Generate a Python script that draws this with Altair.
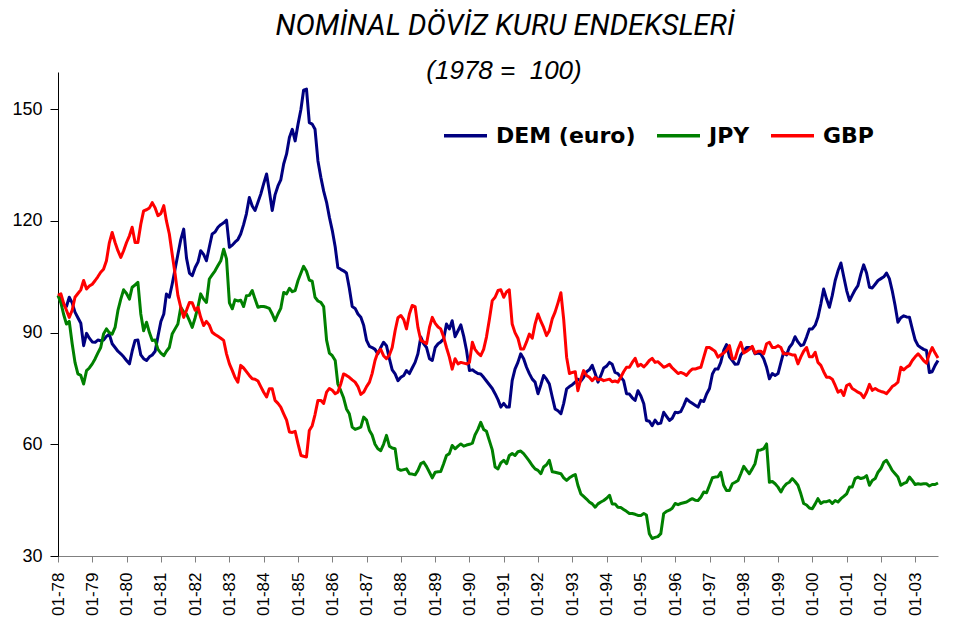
import altair as alt
import pandas as pd

TITLE = "NOMİNAL DÖVİZ KURU ENDEKSLERİ"
SUBTITLE = "(1978 =\u00a0 100)"
SERIES = ["DEM (euro)", "JPY", "GBP"]
COLORS = ["#000080", "#008000", "#FF0000"]
Y_TICKS = [30, 60, 90, 120, 150]
START = "1978-01-01"  # monthly data, Jan 1978 .. Sep 2003

dem = [
    100, 99, 97.5, 97, 99.5, 98, 95.5, 94, 92.5, 86.5, 89.8, 88.5,
    87.5, 87.4, 88, 87.8, 88, 89, 89.6, 87, 86, 85, 84.3, 83.5,
    82.5, 81.6, 85, 87.9, 88, 84, 83, 82.5, 83.5, 84, 85, 89,
    93, 95, 100.4, 99.5, 103, 107, 111, 115, 117.8, 110, 106, 105.3,
    107.5, 109, 112, 111, 109.3, 113, 116.5, 117, 118.3, 119, 119.5, 120.2,
    112.9, 113.5, 114.3, 115, 116.5, 119, 121.9, 126.3, 124, 122.8, 125, 127.2,
    130, 132.6, 128, 122.8, 127, 129.4, 131, 135.3, 138, 142.4, 144.6, 141.5,
    146, 150, 155.1, 155.4, 146.4, 146, 144.6, 136.1, 131.7, 128, 125, 121,
    117.4, 113, 107.5, 107, 106.6, 106, 102, 97, 96.5, 95, 94.1, 92,
    87.9, 86.3, 86, 85.5, 84.3, 86, 87.4, 86.5, 83, 80, 78.9, 77.1,
    78, 78.5, 79.8, 79, 80.5, 82, 84.3, 88.8, 87, 86, 83, 82.5,
    86, 87, 87.5, 88.3, 92.3, 91, 93.2, 88.9, 90.5, 92.1, 89, 85.2,
    79.8, 80, 79.5, 79, 78.9, 78, 77, 76, 75, 73.6, 72, 70,
    71, 70, 70, 77.1, 80.2, 82, 84.3, 83, 80.7, 79, 77.5, 76.7,
    73.6, 76, 78.5, 77.5, 76.2, 72.7, 69.5, 69, 68.2, 71, 74.9, 75.5,
    76, 76.7, 77.5, 77, 78, 79.5, 80, 81.2, 79, 76.7, 78.5, 80.5,
    81, 82, 81.5, 79.3, 79, 78, 77.1, 73.6, 73.5, 72.5, 71.8, 74.4,
    73, 70.9, 66.4, 66.2, 65, 66.5, 65.5, 65.7, 68.6, 67.5, 66.4, 67,
    68.6, 68.5, 68.8, 70.4, 72.2, 71.5, 71, 70.5, 70, 71.8, 71.5, 73.5,
    75, 78.9, 80.2, 80.2, 82, 85.2, 86.8, 83.5, 82.5, 81.5, 81.6, 84,
    85, 86, 86, 86, 84.3, 84.5, 84.3, 83, 80.7, 77.6, 79, 78.5,
    79, 82, 84.7, 84, 86, 87, 88.9, 87.5, 86.5, 86.8, 88.8, 91,
    91, 92, 94.1, 97.7, 101.7, 99, 96.8, 100, 104, 106.6, 108.7, 105,
    101.3, 98.6, 100, 101.5, 102.6, 105.7, 108.2, 106, 102.2, 102, 103, 104,
    104.5, 105, 106, 104.5, 101.3, 97.3, 92.8, 94, 94.5, 94.2, 94.1, 91,
    88, 86.5, 86, 85.5, 85.2, 79.3, 79.5, 81.2, 82.5,
]

jpy = [
    100, 98, 95, 92.3, 93, 87, 82, 78.9, 78.5, 76.2, 79.8, 80.5,
    81.6, 83, 84.5, 86, 89.6, 91, 90, 89.6, 91.4, 95.9, 99, 101.5,
    100.5, 99, 102.2, 102.8, 103.5, 95, 90.5, 92.8, 90, 87.9, 88, 85.5,
    84.5, 83.8, 85, 86, 89.6, 91, 92.3, 96.8, 95.5, 95, 93.2, 91.4,
    94, 97, 100.4, 99, 98.1, 104.4, 105.5, 106.6, 108, 109.3, 112.4, 109.8,
    98, 96.4, 98.8, 98.5, 98.7, 97, 99.9, 100, 101.3, 99, 96.8, 97,
    97, 96.8, 96.5, 95, 93.2, 95, 96.5, 100.8, 100.4, 101.9, 101, 101.3,
    104, 106, 107.8, 106.5, 104.1, 103.8, 99.5, 98.5, 98.1, 97, 88, 84.5,
    83.8, 82.5, 76.2, 74.4, 72.5, 69.5, 68.2, 64.6, 64, 64.3, 64.6, 67.3,
    66.5, 63.7, 62.5, 60, 58.8, 58.3, 60, 62.4, 59.5, 59, 58.8, 53.4,
    53, 53.2, 53.4, 52.1, 52, 51.8, 53, 54.8, 55.2, 54, 52.5, 51,
    52.5, 52.6, 52.7, 54.8, 57, 57.5, 59.7, 58.8, 59.5, 60.1, 59.5, 59.8,
    60, 60.3, 62.5, 64, 65.9, 64, 63.5, 61, 58.5, 53.9, 53.4, 55,
    55.7, 54.8, 57, 57.5, 57, 58, 58.2, 57.5, 56.5, 55.5, 54.3, 53.4,
    53, 52.1, 53.9, 54.5, 55.7, 52.6, 52.5, 52.3, 52.1, 51, 50.3, 51,
    51.5, 51.9, 49, 46.7, 46, 45.3, 44.5, 44, 43.1, 44, 44.5, 44.9,
    45.5, 46.3, 44, 44, 43.1, 43, 42.5, 42, 41.4, 41.4, 41.2, 40.9,
    40.9, 41.4, 41, 36, 34.7, 35, 35.2, 36, 41.4, 42, 42.3, 42.8,
    44.1, 43.8, 44.1, 44.3, 44.5, 45, 45.4, 45, 44.9, 45.8, 47.2, 47,
    49, 51, 51.2, 51.3, 52.5, 49, 47.6, 47.6, 49.4, 49.8, 50.3, 52.1,
    54.1, 53, 52.1, 53.4, 54.8, 58.4, 58.5, 58.8, 60.1, 49.8, 50, 49.4,
    48.5, 47.2, 48.5, 49.4, 49.8, 50.8, 50, 49, 46.7, 44.1, 43.7, 42.9,
    42.7, 44, 45.4, 44.1, 44.6, 44.6, 44.9, 44.1, 44.9, 44.5, 45.4, 46,
    46.7, 48.5, 48.5, 50.8, 51.2, 50.8, 51, 51.6, 49, 50.3, 50.8, 52.5,
    53.5, 55.2, 55.7, 54.4, 53, 52.1, 51.2, 49, 49.5, 49.8, 51.2, 50.3,
    49.2, 49.4, 49.3, 49.4, 49.4, 48.8, 49.2, 49.2, 49.6,
]

gbp = [
    100, 100.4, 98, 96, 94.1, 96, 99.5, 100.5, 101.5, 104, 101.7, 102.5,
    103, 104, 105, 106.2, 107, 109.3, 114, 116.9, 114.2, 112, 110.2, 112,
    114.2, 116, 118.3, 114.2, 114.2, 119.1, 122.7, 123, 123.5, 124.9, 123.5, 121.4,
    122, 124.1, 120, 116.5, 111.1, 105.8, 100, 96.8, 94.1, 96, 98.1, 98,
    96, 96.8, 94.1, 91.9, 93, 92, 90.1, 89.5, 89, 88.5, 87.9, 84.3,
    81.6, 79.8, 78, 76.7, 81.2, 80.5, 79.5, 78.5, 77.6, 77.5, 77, 75.5,
    74, 72.7, 74.9, 74.9, 71.8, 71, 70, 68.2, 66.5, 63.3, 63.2, 63.5,
    60.1, 57, 56.8, 56.6, 63.7, 65, 68, 71.8, 71.8, 71, 74, 75,
    74.5, 73.6, 74, 76.2, 78.9, 78.5, 78, 77.3, 76.7, 75.5, 73.4, 74,
    75.5, 76.7, 79, 82.5, 84.7, 85.5, 83.8, 83, 84, 86, 90.5, 94,
    94.6, 93.5, 91, 95, 97.3, 97, 91.4, 87.9, 87.5, 87, 91.4, 94.1,
    92.5, 91.5, 91, 88.8, 86, 83.4, 80.2, 83, 81.6, 82, 81.8, 81.6,
    82, 87.4, 85.5, 84.5, 83.8, 85.5, 88.8, 93.5, 98.6, 99.5, 101.3, 101.5,
    99.5, 101, 101.5, 92.3, 90, 88.5, 85.6, 85.6, 87.5, 89.6, 88.5, 92.3,
    95, 93, 91.4, 89.2, 90.5, 93.7, 95.5, 98, 100.7, 93.5, 83.4, 79,
    79.3, 79.5, 74.4, 77.5, 79.8, 78.5, 78, 77.1, 78, 77.3, 77.5, 77.1,
    77.3, 77.5, 76.8, 77, 76.7, 78, 79.5, 80.7, 80.7, 82, 83.1, 81,
    81.5, 80.8, 81.5, 82.5, 83.1, 82, 82.2, 81.5, 80.7, 81, 81.5, 80.5,
    79.8, 79, 79.3, 79, 78.5, 79.5, 80.2, 80.2, 80.5, 80.7, 83.4, 86,
    86, 85.5, 85, 83.4, 84, 84.5, 85.2, 86.5, 83, 83, 85.6, 87.4,
    84.5, 85, 85.5, 86.3, 84.5, 85, 85, 84.3, 87, 87.4, 86, 86,
    86.5, 86, 84.3, 84.3, 84.3, 84, 84, 81.6, 83.5, 85, 86, 83.5,
    83.5, 84.7, 82, 81.2, 79.5, 78, 78, 77.5, 75.8, 74, 74.5, 73.1,
    75.8, 76.2, 75, 74.5, 74, 73.6, 72.5, 74, 76.1, 74.5, 75, 74.5,
    74.2, 74, 73.6, 74.5, 75.5, 76, 76.7, 80.7, 80, 80.7, 81.2, 82.5,
    83.5, 84.3, 83.5, 82.5, 81.8, 84.3, 86, 84.5, 83.2,
]

n = len(dem)
dates = pd.date_range(START, periods=n, freq="MS").strftime("%Y-%m-%d").tolist()
rows = []
for name, vals in zip(SERIES, [dem, jpy, gbp]):
    for d, v in zip(dates, vals):
        rows.append({"date": d, "series": name, "value": v})
df = pd.DataFrame(rows)

x_domain = [alt.DateTime(year=1978, month=1, date=1, utc=True),
            alt.DateTime(year=2003, month=9, date=1, utc=True)]
x_ticks = [alt.DateTime(year=y, month=1, date=1, utc=True) for y in range(1978, 2004)]

lines = alt.Chart(df).mark_line(strokeWidth=3, strokeJoin="round").encode(
    x=alt.X(
        "date:T",
        scale=alt.Scale(type="utc", domain=x_domain),
        axis=alt.Axis(
            values=x_ticks, format="%m-%y", title=None, grid=False,
            labelAngle=270, labelAlign="right", labelBaseline="middle",
            labelFont="Liberation Sans", labelFontSize=17, labelColor="#000000",
            labelPadding=10, labelFlush=False, labelOverlap=False,
            tickSize=6, tickColor="#808080", domainColor="#808080",
        ),
    ),
    y=alt.Y(
        "value:Q",
        scale=alt.Scale(domain=[30, 160], nice=False, zero=False),
        axis=alt.Axis(
            values=Y_TICKS, title=None, grid=False,
            labelFont="Liberation Sans", labelFontSize=18, labelColor="#000000",
            labelPadding=8, tickSize=8, tickColor="#000000", domainColor="#000000",
        ),
    ),
    color=alt.Color(
        "series:N",
        scale=alt.Scale(domain=SERIES, range=COLORS),
        sort=SERIES,
        legend=alt.Legend(
            orient="none", legendX=384, legendY=40, direction="horizontal",
            columns=3, title=None, symbolType="stroke", symbolSize=1849,
            symbolStrokeWidth=3.5, labelFont="DejaVu Sans", labelFontWeight="bold",
            labelFontSize=22, labelColor="#000000", labelOffset=7,
            columnPadding=14, padding=0, labelLimit=300,
        ),
    ),
)

title_df = pd.DataFrame({"t": [TITLE]})
sub_df = pd.DataFrame({"t": [SUBTITLE]})

title = alt.Chart(title_df).mark_text(
    font="Roboto", fontSize=29, fontStyle="italic", align="center",
    baseline="alphabetic", color="#000000",
).encode(text="t:N", x=alt.value(447), y=alt.value(-37))

subtitle = alt.Chart(sub_df).mark_text(
    font="Liberation Sans", fontSize=26, fontStyle="italic", align="center",
    baseline="alphabetic", color="#000000",
).encode(text="t:N", x=alt.value(446), y=alt.value(7))

chart = alt.layer(lines, title, subtitle).properties(
    width=880, height=484,
    autosize=alt.AutoSizeParams(type="none"),
    padding={"left": 50, "top": 64, "right": 8, "bottom": 62},
    background="#FFFFFF",
).configure_view(stroke=None)

chart.save("out.html", embed_options={"renderer": "svg", "actions": False})
